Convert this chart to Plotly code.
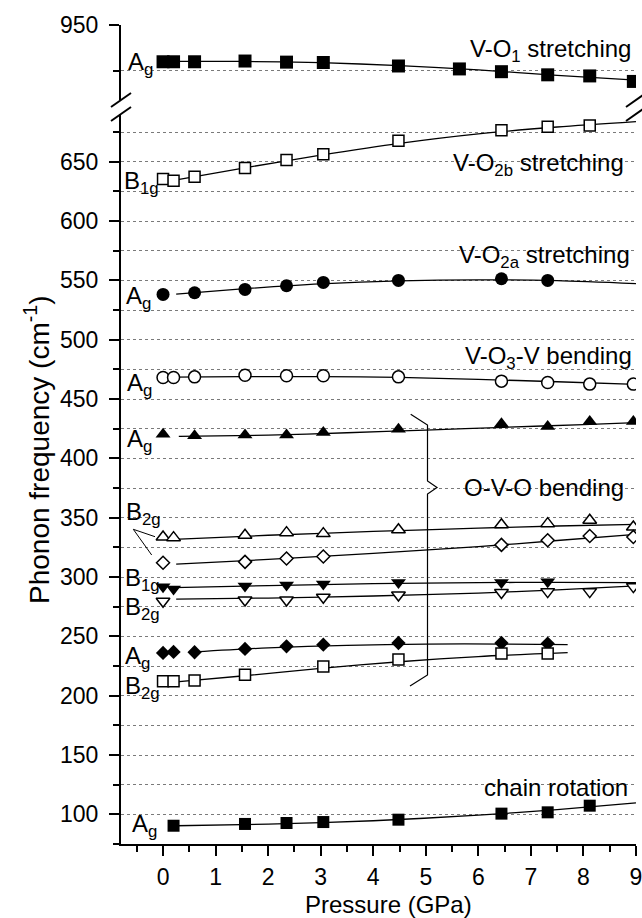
import plotly.graph_objects as go

# ---------------- data ----------------
# V-O1 stretching, Ag (upper panel)
P_VO1 = [0, 0.2, 0.6, 1.56, 2.35, 3.05, 4.48, 5.64, 6.44, 7.32, 8.12, 8.95]
F_VO1 = [930.0, 930.0, 930.0, 930.4, 929.8, 929.6, 927.7, 926.1, 924.6, 922.9, 922.3, 919.3]
FIT_VO1_P = [0, 1.5, 3, 4.5, 6, 7.5, 9]
FIT_VO1_F = [930.2, 930.2, 929.5, 927.9, 925.6, 922.6, 920.0]

# V-O2b stretching, B1g (open squares)
P_VO2B = [0, 0.2, 0.6, 1.56, 2.35, 3.05, 4.48, 6.44, 7.32, 8.12]
F_VO2B = [635.4, 634.0, 637.4, 644.7, 651.4, 656.4, 667.6, 676.5, 679.6, 680.5]
FIT_VO2B_P = [0.2, 1.5, 3, 4.5, 6, 7.5, 9]
FIT_VO2B_F = [634.3, 644.5, 655.5, 665.5, 673.5, 679.3, 683.8]

# V-O2a stretching, Ag (filled circles)
P_VO2A = [0, 0.6, 1.56, 2.35, 3.05, 4.48, 6.44, 7.32]
F_VO2A = [538.2, 539.6, 542.4, 545.5, 548.3, 550.0, 551.4, 550.0]
FIT_VO2A_P = [0.25, 1.5, 3, 4.5, 6, 7.5, 9]
FIT_VO2A_F = [538.5, 542.8, 547.0, 549.6, 550.5, 549.8, 547.3]

# V-O3-V bending, Ag (open circles)
P_VO3 = [0, 0.2, 0.6, 1.56, 2.35, 3.05, 4.48, 6.44, 7.32, 8.12, 8.95]
F_VO3 = [468.2, 468.2, 468.7, 470.1, 469.6, 469.6, 468.7, 465.1, 464.0, 462.6, 462.6]
FIT_VO3_P = [0.2, 1.5, 3, 4.5, 6, 7.5, 9]
FIT_VO3_F = [468.4, 468.9, 468.9, 468.2, 466.6, 464.6, 462.4]

# O-V-O bending, Ag (filled up-triangles)
P_AG_TRI = [0, 0.6, 1.56, 2.35, 3.05, 4.48, 6.44, 7.32, 8.12, 8.95]
F_AG_TRI = [420.4, 419.0, 419.8, 419.8, 421.8, 424.6, 429.1, 426.8, 431.0, 431.0]
FIT_AG_TRI_P = [0.3, 2, 3.5, 5, 6.5, 8, 9]
FIT_AG_TRI_F = [418.6, 419.6, 421.6, 423.8, 426.2, 428.5, 430.2]

# B2g (open up-triangles)
P_B2G_TRI = [0, 0.2, 1.56, 2.35, 3.05, 4.48, 6.44, 7.32, 8.12, 8.95]
F_B2G_TRI = [333.8, 333.2, 335.2, 337.4, 336.6, 339.9, 344.1, 345.0, 347.8, 342.2]
FIT_B2G_TRI_P = [0.2, 2, 4, 6, 7.5, 9]
FIT_B2G_TRI_F = [331.8, 335.2, 338.4, 341.2, 343.0, 344.4]

# B2g (open diamonds)
P_B2G_DIA = [0, 1.56, 2.35, 3.05, 6.44, 7.32, 8.12, 8.95]
F_B2G_DIA = [312.0, 312.8, 315.6, 317.3, 327.1, 331.0, 334.6, 333.8]
FIT_B2G_DIA_P = [0.25, 2, 4, 6, 7.5, 9]
FIT_B2G_DIA_F = [310.9, 314.8, 320.0, 325.6, 330.8, 336.0]

# B1g (filled down-triangles)
P_B1G_DN = [0, 0.2, 1.56, 2.35, 3.05, 4.48, 6.44, 7.32]
F_B1G_DN = [291.8, 290.0, 292.5, 293.3, 294.1, 295.3, 295.3, 296.1]
FIT_B1G_DN_P = [0.2, 2, 4, 6, 7.5, 9]
FIT_B1G_DN_F = [291.1, 292.8, 294.4, 295.3, 295.5, 295.3]

# B2g (open down-triangles)
P_B2G_DN = [0, 1.56, 2.35, 3.05, 4.48, 6.44, 7.32, 8.12, 8.95]
F_B2G_DN = [279.6, 280.7, 280.7, 283.0, 284.9, 286.9, 287.7, 287.7, 291.9]
FIT_B2G_DN_P = [0.25, 2, 4, 6, 7.5, 9]
FIT_B2G_DN_F = [281.3, 282.3, 284.0, 286.5, 289.2, 292.5]

# Ag (filled diamonds)
P_AG_DIA = [0, 0.2, 0.6, 1.56, 2.35, 3.05, 4.48, 6.44, 7.32]
F_AG_DIA = [236.0, 236.9, 236.6, 239.4, 241.6, 243.0, 244.4, 244.4, 243.9]
FIT_AG_DIA_P = [0.6, 2, 3.5, 5, 6.5, 7.7]
FIT_AG_DIA_F = [236.9, 240.3, 242.4, 243.5, 243.5, 243.0]

# B2g (open squares)
P_B2G_SQ = [0, 0.2, 0.6, 1.56, 3.05, 4.48, 6.44, 7.32]
F_B2G_SQ = [212.1, 212.1, 212.9, 217.7, 224.7, 230.4, 235.5, 235.5]
FIT_B2G_SQ_P = [0.2, 1.5, 3, 4.5, 6, 7.7]
FIT_B2G_SQ_F = [211.5, 216.6, 223.0, 228.6, 233.0, 236.3]

# chain rotation, Ag (filled squares)
P_CHAIN = [0.2, 1.56, 2.35, 3.05, 4.48, 6.44, 7.32, 8.12]
F_CHAIN = [90.4, 91.9, 92.7, 93.5, 95.5, 100.6, 101.7, 107.3]
FIT_CHAIN_P = [0.25, 2, 4, 6, 7.5, 9]
FIT_CHAIN_F = [90.4, 91.7, 94.6, 99.3, 104.0, 109.6]

X_TICKS = list(range(0, 10))
Y_TICKS_LOW = list(range(100, 651, 50))
Y_TICKS_UP = [950]

# ---------------- layout geometry ----------------
W, H = 642, 918
L, R, T, B = 121, 6, 25, 74
PW, PH = W - L - R, H - T - B
UP_BOTTOM_PX, LOW_TOP_PX = 100, 113.7
X_RANGE = [-0.8, 9.0005]


def px_x(px):
    return (px - L) / PW


def px_y(py):
    return (H - B - py) / PH


FONT = "Liberation Sans, Arial, Helvetica, sans-serif"
BLACK = "black"
GRID = "#7a7a7a"

fig = go.Figure()

series = [
    # (P, F, fitP, fitF, symbol, filled, size, yaxis)
    (P_VO1, F_VO1, FIT_VO1_P, FIT_VO1_F, "square", True, 13, "y2"),
    (P_VO2B, F_VO2B, FIT_VO2B_P, FIT_VO2B_F, "square", False, 11, "y"),
    (P_VO2A, F_VO2A, FIT_VO2A_P, FIT_VO2A_F, "circle", True, 13, "y"),
    (P_VO3, F_VO3, FIT_VO3_P, FIT_VO3_F, "circle", False, 12, "y"),
    (P_AG_TRI, F_AG_TRI, FIT_AG_TRI_P, FIT_AG_TRI_F, "triangle-up", True, 13, "y"),
    (P_B2G_TRI, F_B2G_TRI, FIT_B2G_TRI_P, FIT_B2G_TRI_F, "triangle-up", False, 12, "y"),
    (P_B2G_DIA, F_B2G_DIA, FIT_B2G_DIA_P, FIT_B2G_DIA_F, "diamond", False, 10, "y"),
    (P_B1G_DN, F_B1G_DN, FIT_B1G_DN_P, FIT_B1G_DN_F, "triangle-down", True, 13, "y"),
    (P_B2G_DN, F_B2G_DN, FIT_B2G_DN_P, FIT_B2G_DN_F, "triangle-down", False, 12, "y"),
    (P_AG_DIA, F_AG_DIA, FIT_AG_DIA_P, FIT_AG_DIA_F, "diamond", True, 11, "y"),
    (P_B2G_SQ, F_B2G_SQ, FIT_B2G_SQ_P, FIT_B2G_SQ_F, "square", False, 11, "y"),
    (P_CHAIN, F_CHAIN, FIT_CHAIN_P, FIT_CHAIN_F, "square", True, 12, "y"),
]

for p, f, fp, ff, sym, filled, size, ya in series:
    fig.add_trace(go.Scatter(x=fp, y=ff, mode="lines", yaxis=ya, xaxis="x",
                             line=dict(color=BLACK, width=1.3, shape="spline", smoothing=0.8),
                             hoverinfo="skip", showlegend=False))
for p, f, fp, ff, sym, filled, size, ya in series:
    fig.add_trace(go.Scatter(x=p, y=f, mode="markers", yaxis=ya, xaxis="x",
                             marker=dict(symbol=sym, size=size,
                                         color=BLACK if filled else "white",
                                         line=dict(color=BLACK, width=0 if filled else 1.5)),
                             showlegend=False))

tickfont = dict(family=FONT, size=23, color=BLACK)

fig.update_layout(
    width=W, height=H,
    margin=dict(l=L, r=R, t=T, b=B, pad=0, autoexpand=False),
    paper_bgcolor="white", plot_bgcolor="white",
    showlegend=False,
    font=dict(family=FONT, color=BLACK),
    xaxis=dict(range=X_RANGE, tickvals=X_TICKS, ticks="outside", ticklen=10, tickwidth=1.5,
               tickcolor=BLACK, tickfont=tickfont, ticklabelstandoff=1,
               ticklabeloverflow="allow", automargin=False,
               minor=dict(tick0=0, dtick=0.5, ticks="outside", ticklen=6, tickwidth=1.5, tickcolor=BLACK),
               showline=True, linewidth=2, linecolor=BLACK, showgrid=False, zeroline=False,
               anchor="y"),
    xaxis2=dict(range=X_RANGE, overlaying="x", anchor="y2", side="top", automargin=False,
                tickvals=X_TICKS, ticks="inside", ticklen=10, tickwidth=1.5, tickcolor=BLACK,
                minor=dict(tick0=0, dtick=0.5, ticks="inside", ticklen=6, tickwidth=1.5, tickcolor=BLACK),
                showticklabels=False, showline=True, linewidth=2, linecolor=BLACK,
                showgrid=False, zeroline=False),
    yaxis=dict(domain=[0, px_y(LOW_TOP_PX)], range=[75, 690.5], tickvals=Y_TICKS_LOW,
               ticks="outside", ticklen=10, tickwidth=1.5, tickcolor=BLACK, tickfont=tickfont,
               ticklabelstandoff=6, automargin=False,
               minor=dict(tick0=0, dtick=25, ticks="outside", ticklen=6, tickwidth=1.5, tickcolor=BLACK,
                          showgrid=True, gridcolor=GRID, griddash="dot", gridwidth=1),
               showgrid=True, gridcolor=GRID, griddash="dot", gridwidth=1,
               showline=True, linewidth=2, linecolor=BLACK, zeroline=False, anchor="x"),
    yaxis2=dict(domain=[px_y(UP_BOTTOM_PX), 1], range=[909.2, 950], tickvals=Y_TICKS_UP,
                ticks="outside", ticklen=10, tickwidth=1.5, tickcolor=BLACK, tickfont=tickfont,
                ticklabelstandoff=6, ticklabeloverflow="allow", automargin=False,
                minor=dict(tick0=0, dtick=25, ticks="outside", ticklen=6, tickwidth=1.5, tickcolor=BLACK,
                           showgrid=True, gridcolor=GRID, griddash="dot", gridwidth=1),
                showgrid=False, showline=True, linewidth=2, linecolor=BLACK, zeroline=False,
                anchor="x"),
    yaxis3=dict(overlaying="y", side="right", anchor="x", range=[75, 690.5], tickvals=Y_TICKS_LOW,
                ticks="inside", ticklen=10, tickwidth=1.5, tickcolor=BLACK, showticklabels=False,
                automargin=False,
                minor=dict(tick0=0, dtick=25, ticks="inside", ticklen=6, tickwidth=1.5, tickcolor=BLACK),
                showgrid=False, showline=True, linewidth=2, linecolor=BLACK, zeroline=False),
    yaxis4=dict(overlaying="y2", side="right", anchor="x", range=[909.2, 950], tickvals=Y_TICKS_UP,
                ticks="inside", ticklen=10, tickwidth=1.5, tickcolor=BLACK, showticklabels=False,
                automargin=False,
                minor=dict(tick0=0, dtick=25, ticks="inside", ticklen=6, tickwidth=1.5, tickcolor=BLACK),
                showgrid=False, showline=True, linewidth=2, linecolor=BLACK, zeroline=False),
)

shapes = []
# axis break marks
for cx in (L, W - R):
    for dy in (0, 14):
        shapes.append(dict(type="line", xref="paper", yref="paper",
                           x0=px_x(cx - 10), y0=px_y(107 + dy), x1=px_x(cx + 10), y1=px_y(93 + dy),
                           line=dict(color=BLACK, width=2)))
# pointer lines for the B2g label
for (x1, y1) in ((155, 536.7), (151.7, 555)):
    shapes.append(dict(type="line", xref="paper", yref="paper",
                       x0=px_x(133.3), y0=px_y(529.3), x1=px_x(x1), y1=px_y(y1),
                       line=dict(color=BLACK, width=1)))
# curly bracket for O-V-O bending
brace = [(410.7, 414.3), (427.5, 425), (427.5, 481), (437, 487.5), (427.5, 494), (427.5, 675), (410, 686)]
path = "M " + " L ".join(f"{px_x(a):.5f},{px_y(b):.5f}" for a, b in brace)
shapes.append(dict(type="path", xref="paper", yref="paper", path=path,
                   line=dict(color=BLACK, width=1.2)))
fig.update_layout(shapes=shapes)

ann = []
AFONT = dict(family=FONT, size=24, color=BLACK)
# band labels (right-aligned)
band_labels = [
    ("V-O<sub>1</sub> stretching", 632, 34),
    ("V-O<sub>2b</sub> stretching", 625, 148),
    ("V-O<sub>2a</sub> stretching", 631, 240),
    ("V-O<sub>3</sub>-V bending", 633, 341),
    ("O-V-O bending", 625, 473),
    ("chain rotation", 629, 773),
]
for text, xr, yt in band_labels:
    ann.append(dict(text=text, xref="paper", yref="paper", x=px_x(xr), y=px_y(yt),
                    xanchor="right", yanchor="top", showarrow=False, font=AFONT,
                    borderpad=0))
# mode labels (left)
mode_labels = [
    ("A<sub>g</sub>", 127, 53),
    ("B<sub>1g</sub>", 123, 172),
    ("A<sub>g</sub>", 125, 287),
    ("A<sub>g</sub>", 126, 374),
    ("A<sub>g</sub>", 126, 430),
    ("B<sub>2g</sub>", 125, 503),
    ("B<sub>1g</sub>", 124, 569),
    ("B<sub>2g</sub>", 124, 598),
    ("A<sub>g</sub>", 124, 647),
    ("B<sub>2g</sub>", 124, 677),
    ("A<sub>g</sub>", 131, 815),
]
for text, xl, yt in mode_labels:
    ann.append(dict(text=text, xref="paper", yref="paper", x=px_x(xl), y=px_y(yt - 6),
                    xanchor="left", yanchor="top", showarrow=False, font=AFONT, borderpad=0))
# axis titles
ann.append(dict(text="Pressure (GPa)", xref="paper", yref="paper", x=px_x(388), y=px_y(904),
                xanchor="center", yanchor="middle", showarrow=False, borderpad=0,
                font=dict(family=FONT, size=24, color=BLACK)))
ann.append(dict(text="Phonon frequency (cm<sup>-1</sup>)", xref="paper", yref="paper",
                x=px_x(37), y=px_y(450), xanchor="center", yanchor="middle", textangle=-90,
                showarrow=False, font=dict(family=FONT, size=28, color=BLACK)))
fig.update_layout(annotations=ann)

fig.write_html("out.html")
